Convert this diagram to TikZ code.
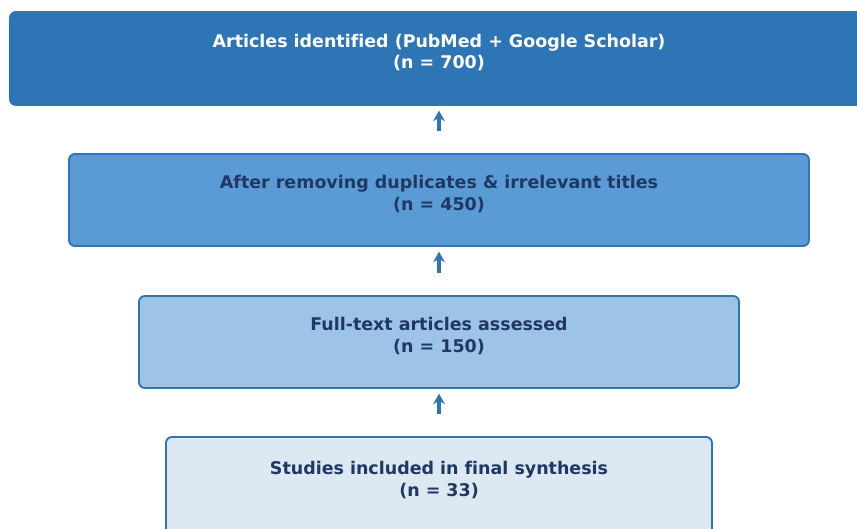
\documentclass[tikz,border=0pt]{standalone}
\usepackage{fontspec}
\setmainfont[Ligatures=NoCommon]{DejaVu Sans}
\usepackage{tikz}
\usetikzlibrary{positioning,arrows.meta}

\definecolor{bluedark}{HTML}{2E75B6}
\definecolor{bluemid}{HTML}{5B9BD5}
\definecolor{bluelight}{HTML}{9DC3E6}
\definecolor{bluepale}{HTML}{DCE8F2}
\definecolor{navytext}{HTML}{1F3864}

\tikzset{
	stagebox/.style={draw=bluedark, line width=1.6pt, rounded corners=5pt, align=center,
		font=\bfseries\fontsize{14.9}{18.2}\selectfont, text=navytext, inner sep=0pt,
		text depth=12pt},
	flowarrow/.style={draw=bluedark, line width=2.8pt, -{Stealth[length=9pt,width=10pt]},
		shorten <=19pt, shorten >=4pt}
}

\begin{document}
\begin{tikzpicture}[x=0.03cm, y=-0.03cm]
				\useasboundingbox (0,0) rectangle (857,529);
				\clip (0,0) rectangle (857,529);
				
				% Riquadri delle fasi di selezione
				\node[stagebox, fill=bluedark, text=white, minimum width=858*0.03cm, minimum height=93*0.03cm] (ident) at (439, 58.5) {Articles identified (PubMed + Google Scholar)\\(n = 700)};
				\node[stagebox, fill=bluemid, minimum width=740*0.03cm, minimum height=92*0.03cm] (screen) at (439, 200) {After removing duplicates \& irrelevant titles\\(n = 450)};
				\node[stagebox, fill=bluelight, minimum width=600*0.03cm, minimum height=92*0.03cm] (full) at (439, 342) {Full-text articles assessed\\(n = 150)};
				\node[stagebox, fill=bluepale, minimum width=546*0.03cm, minimum height=98*0.03cm] (incl) at (439, 486) {Studies included in final synthesis\\(n = 33)};
				
				% Frecce tra le fasi
				\draw[flowarrow] (screen.north) -- (ident.south);
				\draw[flowarrow] (full.north) -- (screen.south);
				\draw[flowarrow] (incl.north) -- (full.south);
			\end{tikzpicture}
\end{document}
